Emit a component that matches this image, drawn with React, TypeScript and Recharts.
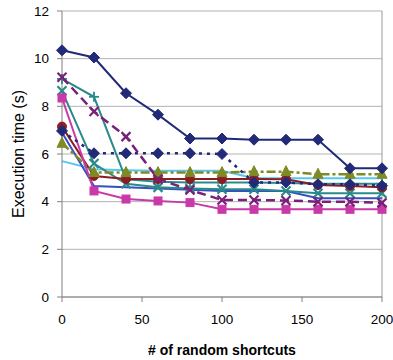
import React from "react";
import { LineChart, Line, XAxis, YAxis, CartesianGrid, ReferenceLine } from "recharts";

const shortcuts = [0, 20, 40, 60, 80, 100, 120, 140, 160, 180, 200];
const navySolid = [10.35, 10.05, 8.55, 7.65, 6.65, 6.65, 6.6, 6.6, 6.6, 5.4, 5.4];
const purpleDashed = [9.22, 7.78, 6.73, 4.95, 4.49, 4.07, 4.07, 4.05, 4.0, 4.0, 3.95];
const tealPlus = [9.15, 8.4, 4.94, 4.84, 4.8, 4.8, 4.8, 4.78, 4.75, 4.75, 4.75];
const tealX = [8.65, 5.6, 4.75, 4.6, 4.55, 4.52, 4.52, 4.45, 4.35, 4.35, 4.35];
const magentaSquare = [8.35, 4.45, 4.11, 4.03, 3.96, 3.68, 3.68, 3.68, 3.68, 3.68, 3.68];
const redCircle = [7.15, 5.08, 4.95, 4.95, 4.95, 4.95, 4.95, 4.94, 4.7, 4.66, 4.6];
const navyDotted = [6.97, 6.03, 6.03, 6.03, 6.03, 6.0, 4.8, 4.81, 4.73, 4.73, 4.67];
const oliveTriangle = [6.45, 5.22, 5.22, 5.22, 5.22, 5.22, 5.26, 5.26, 5.15, 5.15, 5.15];
const lightBlue = [5.7, 5.36, 5.32, 5.3, 5.3, 5.3, 4.98, 4.98, 4.98, 4.98, 4.98];
const blueSolid = [6.9, 4.66, 4.6, 4.55, 4.5, 4.45, 4.45, 4.45, 4.14, 4.14, 4.14];
const yTicks = [0, 2, 4, 6, 8, 10, 12];
const xTicks = [0, 50, 100, 150, 200];

const data = shortcuts.map((x, i) => ({
  x,
  navySolid: navySolid[i],
  purpleDashed: purpleDashed[i],
  tealPlus: tealPlus[i],
  tealX: tealX[i],
  magentaSquare: magentaSquare[i],
  redCircle: redCircle[i],
  navyDotted: navyDotted[i],
  oliveTriangle: oliveTriangle[i],
  lightBlue: lightBlue[i],
  blueSolid: blueSolid[i],
}));

const FONT = "'Liberation Sans', Arial, sans-serif";

function marker(kind: string, color: string) {
  return (props: any) => {
    const { cx, cy, index } = props;
    if (cx == null || cy == null) return <g key={index} />;
    const k = `${kind}-${index}`;
    switch (kind) {
      case "diamond":
        return (
          <polygon key={k} points={`${cx},${cy - 5.5} ${cx + 5.5},${cy} ${cx},${cy + 5.5} ${cx - 5.5},${cy}`} fill={color} stroke={color} />
        );
      case "square":
        return <rect key={k} x={cx - 4} y={cy - 4} width={8} height={8} fill={color} stroke={color} />;
      case "circle":
        return <circle key={k} cx={cx} cy={cy} r={4.5} fill={color} stroke={color} />;
      case "triangle":
        return (
          <polygon key={k} points={`${cx},${cy - 6} ${cx + 5},${cy + 4} ${cx - 5},${cy + 4}`} fill={color} stroke={color} />
        );
      case "x":
        return (
          <g key={k} stroke={color} strokeWidth={2.2}>
            <line x1={cx - 4.5} y1={cy - 4.5} x2={cx + 4.5} y2={cy + 4.5} />
            <line x1={cx - 4.5} y1={cy + 4.5} x2={cx + 4.5} y2={cy - 4.5} />
          </g>
        );
      case "plus":
        return (
          <g key={k} stroke={color} strokeWidth={1.8}>
            <line x1={cx - 5} y1={cy} x2={cx + 5} y2={cy} />
            <line x1={cx} y1={cy - 5} x2={cx} y2={cy + 5} />
          </g>
        );
      default:
        return <g key={k} />;
    }
  };
}

const NAVY = "#222a78";
const PURPLE = "#7a1f7a";
const TEAL = "#2a8a8a";
const MAGENTA = "#c83aa8";
const RED = "#8c1c24";
const OLIVE = "#7f8a24";
const LIGHTBLUE = "#55c8f0";
const BLUE = "#3550c0";

export default function App() {
  return (
    <div style={{ position: "absolute", left: 0, top: 0, width: 393, height: 360, background: "#fff" }}>
      <LineChart
        width={393}
        height={360}
        data={data}
        margin={{ top: 11, right: 11, left: 8, bottom: 0 }}
        style={{ fontFamily: FONT }}
      >
        <CartesianGrid vertical={false} stroke="#b4b4b4" />
        <ReferenceLine x={200} stroke="#9a9a9a" ifOverflow="extendDomain" />
        <XAxis
          dataKey="x"
          type="number"
          domain={[0, 200]}
          ticks={xTicks}
          stroke="#808080"
          tickSize={5}
          tickMargin={12}
          tick={{ fill: "#000", fontSize: 13.5, fontFamily: FONT }}
          height={63}
          label={{
            value: "# of random shortcuts",
            position: "insideBottom",
            offset: 5,
            style: { fontWeight: "bold", fontSize: 14, fill: "#000", fontFamily: FONT },
          }}
        />
        <YAxis
          type="number"
          domain={[0, 12]}
          ticks={yTicks}
          stroke="#808080"
          tickSize={5}
          tickMargin={8}
          width={54}
          tick={{ fill: "#000", fontSize: 13.5, fontFamily: FONT }}
          label={{
            value: "Execution time (s)",
            angle: -90,
            position: "insideLeft",
            offset: 10,
            style: { textAnchor: "middle", fontSize: 16, fill: "#000", fontFamily: FONT },
          }}
        />
        <Line dataKey="lightBlue" stroke={LIGHTBLUE} strokeWidth={2} dot={false} isAnimationActive={false} />
        <Line dataKey="blueSolid" stroke={BLUE} strokeWidth={2} dot={false} isAnimationActive={false} />
        <Line dataKey="tealPlus" stroke={TEAL} strokeWidth={2} dot={marker("plus", TEAL)} isAnimationActive={false} />
        <Line dataKey="tealX" stroke={TEAL} strokeWidth={2} dot={marker("x", TEAL)} isAnimationActive={false} />
        <Line dataKey="redCircle" stroke={RED} strokeWidth={2} dot={marker("circle", RED)} isAnimationActive={false} />
        <Line dataKey="oliveTriangle" stroke={OLIVE} strokeWidth={2.5} strokeDasharray="9 3 3 3" dot={marker("triangle", OLIVE)} isAnimationActive={false} />
        <Line dataKey="magentaSquare" stroke={MAGENTA} strokeWidth={2} dot={marker("square", MAGENTA)} isAnimationActive={false} />
        <Line dataKey="navyDotted" stroke={NAVY} strokeWidth={2.5} strokeDasharray="3 5" dot={marker("diamond", NAVY)} isAnimationActive={false} />
        <Line dataKey="purpleDashed" stroke={PURPLE} strokeWidth={2.5} strokeDasharray="9 5" dot={marker("x", PURPLE)} isAnimationActive={false} />
        <Line dataKey="navySolid" stroke={NAVY} strokeWidth={2} dot={marker("diamond", NAVY)} isAnimationActive={false} />
      </LineChart>
    </div>
  );
}
